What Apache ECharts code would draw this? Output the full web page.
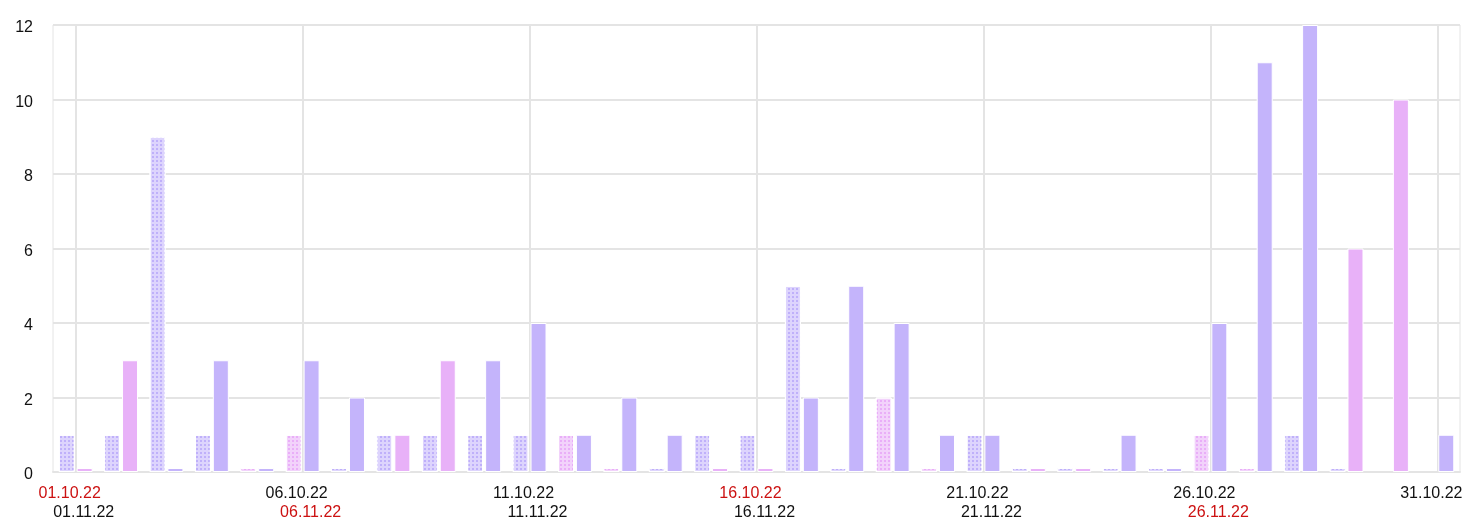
<!DOCTYPE html>
<html>
<head>
<meta charset="utf-8">
<script src="https://cdn.jsdelivr.net/npm/echarts@6/dist/echarts.min.js"></script>
<style>
html,body{margin:0;padding:0;background:#fff;}
#chart{width:1478px;height:529px;}
</style>
</head>
<body>
<div id="chart"></div>
<script>
// Day of month (shared category axis)
const days = [1,2,3,4,5,6,7,8,9,10,11,12,13,14,15,16,17,18,19,20,21,22,23,24,25,26,27,28,29,30,31];
// October 2022 values (solid bars)
const octValues = [0,3,0,3,0,3,2,1,3,3,4,1,2,1,0,0,2,5,4,1,1,0,0,1,0,4,11,12,6,10,1];
// November 2022 values (patterned bars)
const novValues = [1,1,9,1,0,1,0,1,1,1,1,1,0,0,1,1,5,0,2,0,1,0,0,0,0,1,0,1,0,null,null];
// Tick labels
const octLabels = ['01.10.22','02.10.22','03.10.22','04.10.22','05.10.22','06.10.22','07.10.22','08.10.22','09.10.22','10.10.22','11.10.22','12.10.22','13.10.22','14.10.22','15.10.22','16.10.22','17.10.22','18.10.22','19.10.22','20.10.22','21.10.22','22.10.22','23.10.22','24.10.22','25.10.22','26.10.22','27.10.22','28.10.22','29.10.22','30.10.22','31.10.22'];
const novLabels = ['01.11.22','02.11.22','03.11.22','04.11.22','05.11.22','06.11.22','07.11.22','08.11.22','09.11.22','10.11.22','11.11.22','12.11.22','13.11.22','14.11.22','15.11.22','16.11.22','17.11.22','18.11.22','19.11.22','20.11.22','21.11.22','22.11.22','23.11.22','24.11.22','25.11.22','26.11.22','27.11.22','28.11.22','29.11.22','30.11.22',''];
const yTicks = [0,2,4,6,8,10,12];

const PURPLE = '#c4b4fb';
const PINK = '#e8b1f8';
const PURPLE_LIGHT = '#ddd4fd';
const PINK_LIGHT = '#f2d2fb';

function isWeekend(month, d){
  const wd = new Date(2022, month, d).getDay();
  return wd === 0 || wd === 6;
}

const novData = novValues.map((v,i)=>{
  const we = isWeekend(10, days[i]);
  return {value:v, itemStyle:{color: we ? PINK_LIGHT : PURPLE_LIGHT,
    decal:{symbol:'rect', symbolSize:1, color: we ? 'rgba(226,150,246,0.6)' : 'rgba(165,145,248,0.55)',
      dashArrayX:[2,2], dashArrayY:[2,2], rotation:0}}};
});
const octData = octValues.map((v,i)=>{
  const we = isWeekend(9, days[i]);
  return {value:v, itemStyle:{color: we ? PINK : PURPLE}};
});

function labelFmt(labels, month){
  return function(val, idx){
    const t = labels[idx];
    if(!t) return '';
    return isWeekend(month, days[idx]) ? '{r|'+t+'}' : '{k|'+t+'}';
  };
}
const FONT = 'Liberation Sans, Arial, sans-serif';
const rich = {r:{color:'#cc1111', fontSize:16, fontFamily:FONT},
              k:{color:'#111', fontSize:16, fontFamily:FONT}};

const chart = echarts.init(document.getElementById('chart'), null, {renderer:'canvas'});
chart.setOption({
  animation:false,
  backgroundColor:'#fff',
  grid:{left:53, right:18, top:25, bottom:57, show:true, borderColor:'#e4e4e4', borderWidth:1, containLabel:false},
  xAxis:[{
    type:'category', data:days, position:'bottom',
    axisLine:{show:true, lineStyle:{color:'#e4e4e4', width:2}},
    axisTick:{show:false, alignWithLabel:true, interval:4},
    splitLine:{show:true, interval:4, alignWithLabel:true, lineStyle:{color:'#e4e4e4', width:2}},
    axisLabel:{interval:4, margin:14, padding:[0,12,0,0], formatter:labelFmt(octLabels, 9), rich:rich}
  },{
    type:'category', data:days, position:'bottom', offset:19,
    axisLine:{show:false}, axisTick:{show:false}, splitLine:{show:false},
    axisLabel:{interval:4, margin:14, padding:[0,0,0,16], formatter:labelFmt(novLabels, 10), rich:rich}
  }],
  yAxis:{
    type:'value', min:yTicks[0], max:yTicks[yTicks.length-1], interval:2,
    axisLine:{show:false}, axisTick:{show:false},
    splitLine:{lineStyle:{color:'#e4e4e4', width:2}},
    axisLabel:{margin:20, formatter:function(v){return '{y|'+v+'}';},
      rich:{y:{color:'#111', fontSize:16, fontFamily:FONT, padding:[6,0,0,0]}}}
  },
  series:[{
    type:'bar', name:'Nov', xAxisIndex:0, data:novData, barWidth:16, barGap:'12%', barMinHeight:4,
    itemStyle:{borderColor:'#fff', borderWidth:1}
  },{
    type:'bar', name:'Oct', xAxisIndex:0, data:octData, barWidth:16, barMinHeight:4,
    itemStyle:{borderColor:'#fff', borderWidth:1}
  }]
});
</script>
</body>
</html>
